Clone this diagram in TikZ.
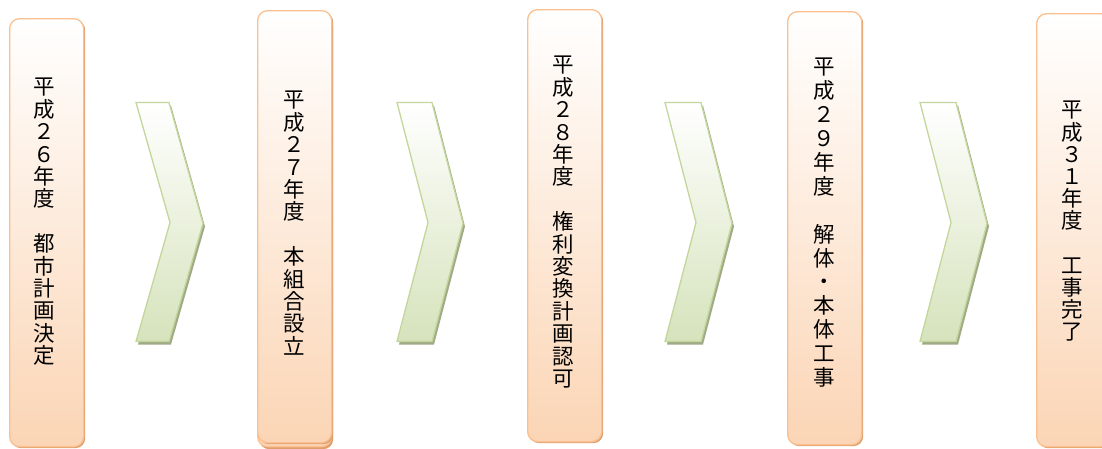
\documentclass[tikz,border=0pt]{standalone}
\usepackage{fontspec}
\newfontfamily\jp{Noto Sans CJK JP}
\definecolor{boxline}{RGB}{250,192,143}
\definecolor{boxbot}{RGB}{251,213,181}
\definecolor{boxsh}{RGB}{222,158,108}
\definecolor{chevline}{RGB}{195,214,155}
\definecolor{chevbot}{RGB}{214,227,188}
\definecolor{chevsh}{RGB}{160,170,135}
\begin{document}
\begin{tikzpicture}[x=1pt,y=-1pt,
  stagebox/.style={draw=boxline, line width=1.3pt, rounded corners=10pt,
    top color=white, bottom color=boxbot, minimum width=74pt, anchor=north west, inner sep=0pt},
  stageshadow/.style={fill=boxsh, rounded corners=10pt, minimum width=74pt, anchor=north west, inner sep=0pt},
  chevfill/.style={draw=chevline, line width=1.3pt, line join=miter, top color=white, bottom color=chevbot},
  chevshadow/.style={fill=chevsh, line join=miter},
  vtext/.style={anchor=north, inner sep=0pt, align=center, text=black}
]
\useasboundingbox (0,0) rectangle (1102,448);
\clip (0,0) rectangle (1102,448);

% ---------- stage boxes ----------
% box 1
\node[stageshadow, minimum height=428pt] (s1) at (11,20) {};
\node[stagebox, minimum height=428pt] (b1) at (9,18) {};
% box 2 (double)
\node[stageshadow, minimum height=432pt] (s2b) at (259,17) {};
\node[stagebox, minimum height=432pt] (b2b) at (257,14) {};
\node[stageshadow, minimum height=432pt] (s2) at (259,12) {};
\node[stagebox, minimum height=432pt] (b2) at (257,10) {};
% box 3
\node[stageshadow, minimum height=432pt] (s3) at (529,11) {};
\node[stagebox, minimum height=432pt] (b3) at (527,9) {};
% box 4
\node[stageshadow, minimum height=433pt] (s4) at (789,13) {};
\node[stagebox, minimum height=433pt] (b4) at (787,11) {};
% box 5
\node[stageshadow, minimum height=433pt] (s5) at (1038,15) {};
\node[stagebox, minimum height=433pt] (b5) at (1036,13) {};

% ---------- chevrons ----------
\newcommand{\chevpath}[3]{% x0, width, depth
  (#1,102.5) -- ({#1+#2},102.5) -- ({#1+#2+#3},223.5) -- ({#1+#2},341.5)
  -- (#1,341.5) -- ({#1+#3},222.5) -- cycle}
\fill[chevshadow, shift={(2,3)}] \chevpath{136}{33}{34};
\path[chevfill] \chevpath{136}{33}{34};
\fill[chevshadow, shift={(2,3)}] \chevpath{397}{35}{31};
\path[chevfill] \chevpath{397}{35}{31};
\fill[chevshadow, shift={(2,3)}] \chevpath{665}{36}{31};
\path[chevfill] \chevpath{665}{36}{31};
\fill[chevshadow, shift={(2,3)}] \chevpath{920}{36}{31};
\path[chevfill] \chevpath{920}{36}{31};

% ---------- texts ----------
\node[vtext, font=\jp\fontsize{21.5}{22.4}\selectfont] (t1) at (44,78)
  {平\\成\\２\\６\\年\\度\\　\\都\\市\\計\\画\\決\\定};
\node[vtext, font=\jp\fontsize{21.5}{22.4}\selectfont] (t2) at (294,91)
  {平\\成\\２\\７\\年\\度\\　\\本\\組\\合\\設\\立};
\node[vtext, font=\jp\fontsize{21.5}{22.4}\selectfont] (t3) at (563,56)
  {平\\成\\２\\８\\年\\度\\　\\権\\利\\変\\換\\計\\画\\認\\可};
\node[vtext, font=\jp\fontsize{21.5}{23.9}\selectfont] (t4) at (824,58)
  {平\\成\\２\\９\\年\\度\\　\\解\\体\\・\\本\\体\\工\\事};
\node[vtext, font=\jp\fontsize{21.5}{22.2}\selectfont] (t5) at (1072,101)
  {平\\成\\３\\１\\年\\度\\　\\工\\事\\完\\了};
\end{tikzpicture}
\end{document}
